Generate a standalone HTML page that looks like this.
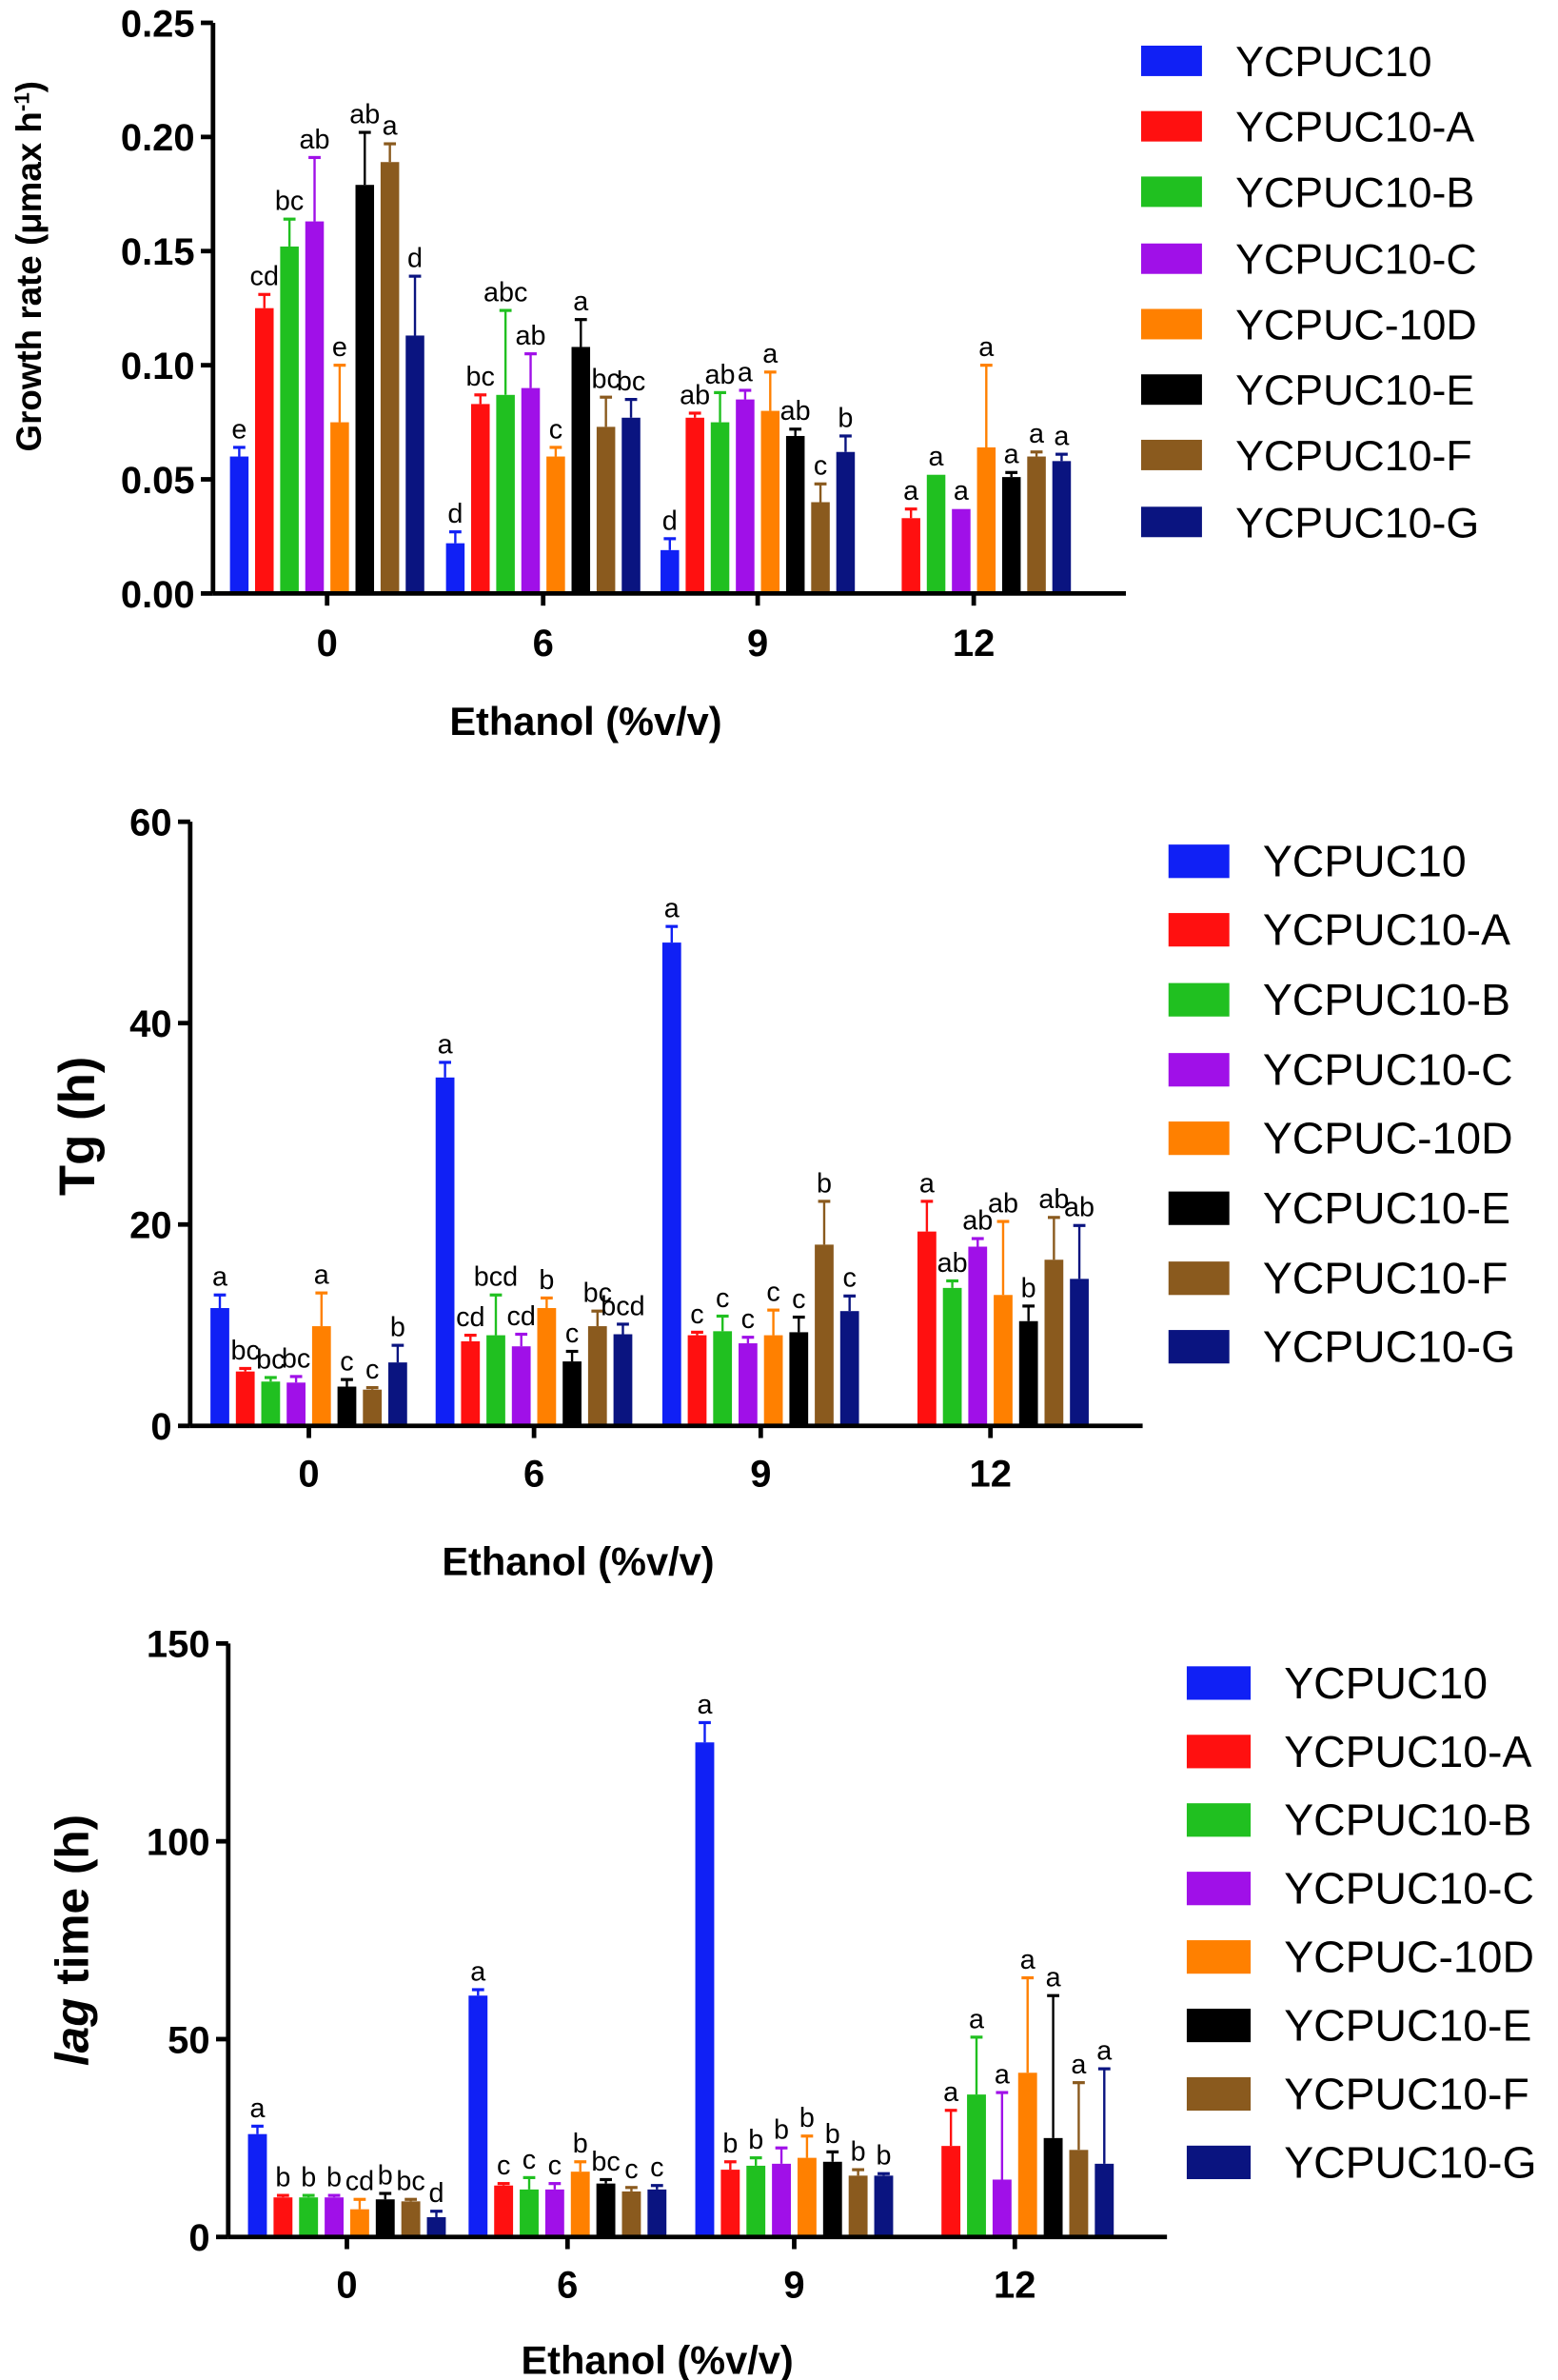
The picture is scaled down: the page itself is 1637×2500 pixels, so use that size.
<!DOCTYPE html>
<html><head><meta charset="utf-8"><style>html,body{margin:0;padding:0;background:#fff}svg{display:block}</style></head>
<body>
<svg id="s" width="1637" height="2500" viewBox="0 0 1024 1564" preserveAspectRatio="none" xmlns="http://www.w3.org/2000/svg" font-family="Liberation Sans, Arial, sans-serif">
<g id="g"></g>
<text x="0" y="0" font-size="1" fill="#fff">Growth rate Tg (h) lag time (h) Ethanol (%v/v) YCPUC10 YCPUC10-A YCPUC10-B YCPUC10-C YCPUC-10D YCPUC10-E YCPUC10-F YCPUC10-G</text>
</svg>
<script>
const C=["#1020f5","#ff1010","#20c020","#a010e8","#ff8000","#000000","#8a5a1e","#0a1480"];
const N=["YCPUC10","YCPUC10-A","YCPUC10-B","YCPUC10-C","YCPUC-10D","YCPUC10-E","YCPUC10-F","YCPUC10-G"];
let h="";
function panel(p){
 const {ax,y0,ytop,max,ticks,tickfmt,gx,sp,off,data,xl,xly,tly,ylab,legx,legy,legf,legw,legh}=p;
 const sc=(y0-ytop)/max;
 const Y=v=>y0-v*sc;
 data.forEach((g,gi)=>{
  g.forEach((d,i)=>{
   if(!d)return;
   const [v,e,l]=d; const cx=gx[gi]+off+i*sp; const w=sp*0.74;
   h+=`<rect x="${cx-w/2}" y="${Y(v)}" width="${w}" height="${v*sc}" fill="${C[i]}"/>`;
   if(e>0){h+=`<line x1="${cx}" x2="${cx}" y1="${Y(v)}" y2="${Y(v+e)}" stroke="${C[i]}" stroke-width="1.5"/><line x1="${cx-4}" x2="${cx+4}" y1="${Y(v+e)}" y2="${Y(v+e)}" stroke="${C[i]}" stroke-width="2"/>`;}
   h+=`<text x="${cx}" y="${Y(v+e)-6}" font-size="18" text-anchor="middle">${l}</text>`;
  });
 });
 h+=`<line x1="${ax}" x2="${ax}" y1="${ytop}" y2="${y0}" stroke="#000" stroke-width="3"/>`;
 h+=`<line x1="${ax}" x2="${gx[3]+100}" y1="${y0}" y2="${y0}" stroke="#000" stroke-width="3"/>`;
 ticks.forEach(t=>{h+=`<line x1="${ax-8}" x2="${ax}" y1="${Y(t)}" y2="${Y(t)}" stroke="#000" stroke-width="3"/><text x="${ax-12}" y="${Y(t)+9}" font-size="25" font-weight="bold" text-anchor="end">${tickfmt(t)}</text>`});
 ["0","6","9","12"].forEach((t,i)=>{h+=`<line x1="${gx[i]}" x2="${gx[i]}" y1="${y0}" y2="${y0+8}" stroke="#000" stroke-width="3"/><text x="${gx[i]}" y="${tly}" font-size="25" font-weight="bold" text-anchor="middle">${t}</text>`});
 h+=`<text x="${xl}" y="${xly}" font-size="26" font-weight="bold" text-anchor="middle">Ethanol (%v/v)</text>`;
 h+=ylab;
 legy.forEach((ly,i)=>{h+=`<rect x="${legx}" y="${ly-legh/2}" width="${legw}" height="${legh}" fill="${C[i]}"/><text x="${legx+legw+22}" y="${ly+10}" font-size="${legf}">${N[i]}</text>`});
}
panel({ax:140,y0:390,ytop:15,max:0.25,ticks:[0,0.05,0.1,0.15,0.2,0.25],tickfmt:t=>t.toFixed(2),gx:[215,357,498,640],sp:16.5,off:-57.75,
data:[
[[.06,.004,"e"],[.125,.006,"cd"],[.152,.012,"bc"],[.163,.028,"ab"],[.075,.025,"e"],[.179,.023,"ab"],[.189,.008,"a"],[.113,.026,"d"]],
[[.022,.005,"d"],[.083,.004,"bc"],[.087,.037,"abc"],[.090,.015,"ab"],[.060,.004,"c"],[.108,.012,"a"],[.073,.013,"bc"],[.077,.008,"bc"]],
[[.019,.005,"d"],[.077,.002,"ab"],[.075,.013,"ab"],[.085,.004,"a"],[.080,.017,"a"],[.069,.003,"ab"],[.040,.008,"c"],[.062,.007,"b"]],
[null,[.033,.004,"a"],[.052,0,"a"],[.037,0,"a"],[.064,.036,"a"],[.051,.002,"a"],[.060,.002,"a"],[.058,.003,"a"]]],
xl:385,xly:483,tly:431,ylab:`<text transform="translate(27,175) rotate(-90)" font-size="23" font-weight="bold" text-anchor="middle">Growth rate (μmax h<tspan dy="-8" font-size="14">-1</tspan><tspan dy="8">)</tspan></text>`,
legx:750,legy:[40,83,126,170,213,256,299,343],legf:28,legw:40,legh:20});
panel({ax:125,y0:937,ytop:540,max:60,ticks:[0,20,40,60],tickfmt:t=>t,gx:[203,351,500,651],sp:16.7,off:-58.5,
data:[
[[11.7,1.3,"a"],[5.4,.3,"bc"],[4.4,.4,"bc"],[4.3,.6,"bc"],[9.9,3.3,"a"],[3.9,.7,"c"],[3.6,.2,"c"],[6.3,1.7,"b"]],
[[34.6,1.5,"a"],[8.4,.6,"cd"],[9,4,"bcd"],[7.9,1.2,"cd"],[11.7,1,"b"],[6.4,1,"c"],[9.9,1.5,"bc"],[9.1,1,"bcd"]],
[[48,1.6,"a"],[9,.3,"c"],[9.4,1.5,"c"],[8.2,.6,"c"],[9,2.5,"c"],[9.3,1.5,"c"],[18,4.3,"b"],[11.4,1.5,"c"]],
[null,[19.3,3,"a"],[13.7,.7,"ab"],[17.8,.8,"ab"],[13,7.3,"ab"],[10.4,1.5,"b"],[16.5,4.2,"ab"],[14.6,5.3,"ab"]]],
xl:380,xly:1035,tly:977,ylab:`<text transform="translate(62,740) rotate(-90)" font-size="33" font-weight="bold" text-anchor="middle">Tg (h)</text>`,
legx:768,legy:[566,611,657,703,748,794,840,885],legf:29,legw:40,legh:22});
panel({ax:150,y0:1470,ytop:1080,max:150,ticks:[0,50,100,150],tickfmt:t=>t,gx:[228,373,522,667],sp:16.8,off:-58.8,
data:[
[[26,2,"a"],[10,.5,"b"],[10,.5,"b"],[10,.5,"b"],[7,2.5,"cd"],[9.5,1.5,"b"],[9,.5,"bc"],[5,1.5,"d"]],
[[61,1.5,"a"],[13,.5,"c"],[12,3,"c"],[12,1.5,"c"],[16.5,2.5,"b"],[13.5,1,"bc"],[11.5,1,"c"],[12,1,"c"]],
[[125,5,"a"],[17,2,"b"],[18,2,"b"],[18.5,4,"b"],[20,5.5,"b"],[19,2.5,"b"],[15.5,1.5,"b"],[15.5,.5,"b"]],
[null,[23,9,"a"],[36,14.5,"a"],[14.5,22,"a"],[41.5,24,"a"],[25,36,"a"],[22,17,"a"],[18.5,24,"a"]]],
xl:432,xly:1560,tly:1510,ylab:`<text transform="translate(58,1275) rotate(-90)" font-size="31" font-weight="bold" text-anchor="middle"><tspan font-style="italic">lag</tspan> time (h)</text>`,
legx:780,legy:[1106,1151,1196,1241,1286,1331,1376,1421],legf:29,legw:42,legh:22});
document.getElementById("g").innerHTML=h;
</script>
</body></html>
